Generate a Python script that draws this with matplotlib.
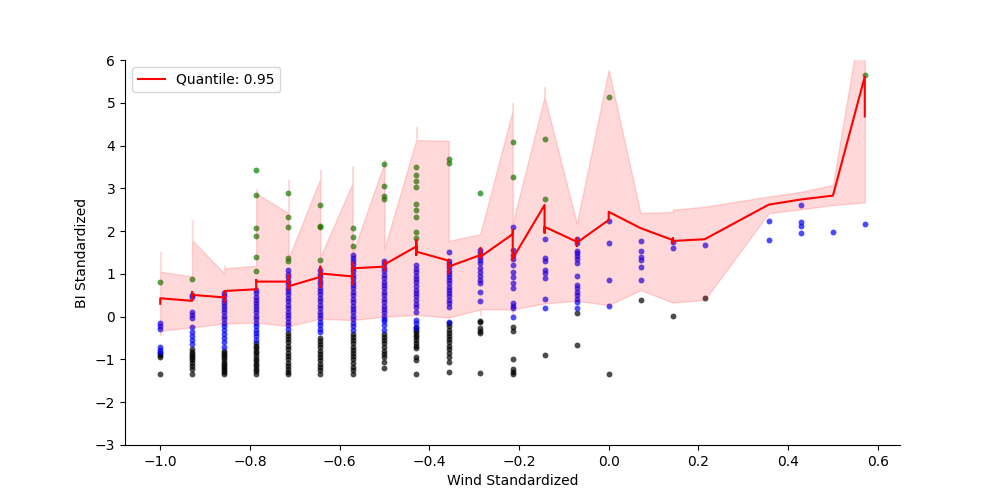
import numpy as np
import matplotlib
matplotlib.use('Agg')
import matplotlib.pyplot as plt

# wind columns (k/14 steps)
wind_cols = [-1.0, -0.929, -0.857, -0.786, -0.714, -0.643, -0.571, -0.5, -0.429, -0.357,
             -0.286, -0.214, -0.143, -0.071, 0.0, 0.071, 0.143, 0.214, 0.357, 0.429, 0.5, 0.571]

black_pts = [
    [-0.86, -0.90, -0.95, -1.34],
    [-0.75, -0.82, -0.88, -0.92, -0.97, -1.02, -1.08, -1.15, -1.22, -1.34],
    [-0.80, -0.85, -0.90, -0.95, -1.0, -1.05, -1.10, -1.15, -1.20, -1.25, -1.30, -1.35],
    [-0.62, -0.68, -0.74, -0.80, -0.86, -0.92, -0.98, -1.04, -1.10, -1.16, -1.22, -1.28, -1.35],
    [-0.38, -0.45, -0.52, -0.60, -0.68, -0.76, -0.84, -0.92, -1.0, -1.08, -1.15, -1.22, -1.30, -1.35],
    [-0.50, -0.58, -0.65, -0.72, -0.80, -0.88, -0.95, -1.02, -1.10, -1.18, -1.25, -1.35],
    [-0.40, -0.48, -0.55, -0.62, -0.70, -0.78, -0.85, -0.92, -1.0, -1.08, -1.18, -1.25, -1.35],
    [-0.40, -0.48, -0.55, -0.62, -0.70, -0.80, -0.88, -0.95, -1.05, -1.20],
    [-0.25, -0.30, -0.36, -0.42, -0.48, -0.55, -0.62, -0.68, -0.74, -0.95, -1.01, -1.34],
    [-0.15, -0.22, -0.30, -0.38, -0.45, -0.52, -0.60, -0.68, -0.75, -0.85, -0.95, -1.05, -1.29],
    [-0.09, -0.12, -0.27, -0.33, -0.39, -1.31],
    [-0.24, -0.33, -0.99, -1.23, -1.30, -1.35],
    [-0.90],
    [0.08, -0.66],
    [-1.34],
    [0.39],
    [0.02],
    [0.44],
    [], [], [], [],
]

blue_pts = [
    [-0.15, -0.22, -0.28, -0.72, -0.78, -0.82],
    [0.50, 0.47, 0.12, 0.05, -0.04, -0.25, -0.35, -0.45, -0.55, -0.65],
    [0.55, 0.48, 0.40, 0.32, 0.25, 0.18, 0.10, 0.02, -0.06, -0.14, -0.22, -0.30, -0.40, -0.50, -0.60, -0.70],
    [0.62, 0.55, 0.47, 0.40, 0.32, 0.25, 0.17, 0.10, 0.02, -0.06, -0.14, -0.22, -0.30, -0.38, -0.46, -0.55],
    [1.10, 1.0, 0.92, 0.84, 0.76, 0.68, 0.60, 0.52, 0.44, 0.36, 0.28, 0.20, 0.12, 0.04, -0.04, -0.12, -0.20, -0.28],
    [1.08, 1.0, 0.92, 0.84, 0.76, 0.68, 0.60, 0.52, 0.44, 0.36, 0.28, 0.20, 0.12, 0.04, -0.04, -0.12, -0.20, -0.28, -0.36],
    [1.44, 1.38, 1.30, 1.22, 1.14, 1.06, 0.98, 0.90, 0.82, 0.74, 0.66, 0.58, 0.50, 0.42, 0.34, 0.26, 0.18, 0.10,
     0.02, -0.06, -0.14, -0.22, -0.30],
    [1.31, 1.22, 1.14, 1.06, 0.98, 0.90, 0.82, 0.74, 0.66, 0.58, 0.50, 0.42, 0.34, 0.26, 0.18, 0.10, 0.02,
     -0.05, -0.10, -0.20, -0.30],
    [1.21, 1.12, 1.05, 0.95, 0.87, 0.80, 0.72, 0.62, 0.55, 0.48, 0.40, 0.30, 0.22, 0.12, -0.07, -0.15, -0.27],
    [1.52, 1.29, 1.22, 1.15, 1.07, 1.0, 0.92, 0.85, 0.78, 0.70, 0.62, 0.55, 0.48, 0.40, 0.32, 0.23, -0.12],
    [1.56, 1.48, 1.40, 1.32, 1.25, 1.13, 1.05, 0.95, 0.85, 0.78, 0.58, 0.37],
    [2.10, 1.56, 1.45, 1.35, 1.21, 1.05, 0.92, 0.78, 0.66, 0.31, 0.25, 0.20, -0.01],
    [1.81, 1.36, 1.30, 1.10, 1.02, 0.91, 0.41, 0.20],
    [1.81, 1.73, 1.54, 1.48, 1.42, 1.34, 1.26, 0.94, 0.74, 0.66, 0.58, 0.50, 0.42, 0.35, 0.20],
    [2.24, 1.72, 0.86, 0.26],
    [1.78, 1.54, 1.40, 1.33, 1.15, 0.86],
    [1.75, 1.60],
    [1.68],
    [2.24, 1.80],
    [2.60, 2.21, 2.13, 1.95],
    [1.98],
    [2.16],
]

green_pts = [
    [0.80], [0.88], [],
    [3.43, 2.84, 2.07, 1.89, 1.39, 1.06],
    [2.90, 2.34, 2.10, 1.36, 1.29],
    [2.60, 2.12, 2.10, 1.33],
    [2.07, 1.86, 1.65],
    [3.56, 3.06, 2.82, 2.75],
    [3.51, 3.31, 3.17, 3.02, 2.63, 2.49, 2.34, 1.98, 1.84],
    [3.68, 3.60],
    [2.90],
    [4.09, 3.26],
    [4.15, 2.75],
    [], [5.13], [], [], [], [], [], [],
    [5.66],
]

# quantile fit (0.95) and its interval, per column in plotting order
q_line = [
    [0.30, 0.43], [0.37, 0.58, 0.51], [0.45, 0.35, 0.60], [0.64, 0.86, 0.82],
    [0.82, 0.97, 0.65, 0.71], [0.93, 1.17, 0.70, 1.01], [0.94, 0.76, 1.25, 1.13],
    [1.17, 1.09, 1.29, 1.22], [1.64, 1.44, 1.79, 1.52], [1.31, 1.03, 1.33, 1.17],
    [1.44, 1.60, 1.37, 1.40], [1.93, 2.03, 1.33, 1.36], [2.61, 1.96, 2.10],
    [1.75, 1.83, 1.65, 1.73], [2.26, 2.45], [2.07], [1.79, 1.83, 1.72, 1.77],
    [1.81], [2.62], [2.74], [2.83], [5.61, 4.68],
]
q_lower = [
    [-0.43, -0.33], [-0.25, -0.25, -0.25], [-0.16, -0.16, -0.16], [-0.14, -0.14, -0.14],
    [-0.22, -0.22, -0.22, -0.22], [-0.05, -0.05, -0.05, -0.05], [-0.08, -0.24, -0.08, -0.08],
    [0.0, 0.0, 0.0, 0.0], [0.04, 0.04, 0.04, 0.04], [-0.02, -0.02, -0.02, -0.02],
    [0.17, 0.04, 0.17, 0.17], [0.17, 0.04, 0.17, 0.17], [0.31, 0.31, 0.31],
    [0.37, 0.37, 0.37, 0.37], [0.27, 0.27], [0.62], [0.33, 0.33, 0.33, 0.33],
    [0.39], [2.42], [2.51], [2.61], [2.67, 2.67],
]
q_upper = [
    [1.52, 1.05], [0.94, 2.26, 1.79], [1.01, 1.19, 1.13], [1.19, 2.98, 2.88],
    [2.42, 3.20, 1.36, 1.36], [3.23, 3.43, 1.40, 1.40], [3.12, 3.51, 1.48, 1.48],
    [3.60, 3.66, 1.60, 1.60], [4.13, 4.44, 4.13, 4.13], [4.11, 4.11, 1.77, 1.77],
    [1.93, 1.95, 1.95, 1.95], [4.83, 4.99, 2.19, 2.19], [5.14, 5.36, 5.14],
    [2.18, 2.18, 2.18, 2.18], [5.77, 5.77], [2.42], [2.45, 2.48, 2.48, 2.50],
    [2.57], [2.81], [2.92], [3.08], [7.5, 7.5],
]


def flatten(cols, groups):
    xs, ys = [], []
    for c, g in zip(cols, groups):
        xs += [c] * len(g)
        ys += list(g)
    return np.array(xs), np.array(ys)


fig, ax = plt.subplots(figsize=(10, 5))

for pts, col in [(black_pts, 'black'), (blue_pts, 'blue'), (green_pts, 'green')]:
    px, py = flatten(wind_cols, pts)
    ax.scatter(px, py, s=18, color=col, alpha=0.7, linewidths=0)

lx, ly = flatten(wind_cols, q_line)
_, lo = flatten(wind_cols, q_lower)
_, hi = flatten(wind_cols, q_upper)

# band drawn over the points, as in the original
ax.fill_between(lx, lo, hi, color='red', alpha=0.15, linewidth=1)
ax.plot(lx, ly, color='red', lw=1.5, label='Quantile: 0.95')

ax.set_ylim(-3, 6)
ax.set_xlabel('Wind Standardized')
ax.set_ylabel('BI Standardized')
ax.spines['top'].set_visible(False)
ax.spines['right'].set_visible(False)
ax.legend(loc='upper left')

plt.savefig('out.png', dpi=100)
